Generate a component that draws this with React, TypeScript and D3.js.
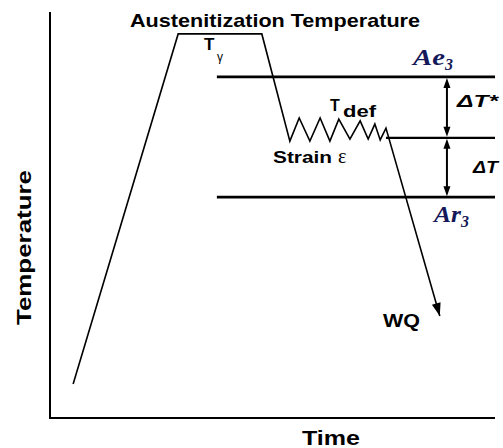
import React from "react";
import * as d3 from "d3";

const W = 503;
const H = 448;

// Thermomechanical schedule in normalised units (time 0–100, temperature 0–100)
const scheduleTime = [5.2, 28.8, 47.6, 53.9, 56.0, 58.4, 60.7, 62.9, 64.9, 67.4, 69.7, 71.5, 73.0, 74.2, 75.5, 87.6];
const scheduleTemp = [8.4, 94.6, 94.6, 68.2, 73.9, 68.2, 73.9, 68.2, 73.6, 68.7, 73.2, 68.7, 72.4, 68.5, 71.4, 25.1];

// Critical temperature levels
const levelNames = ["Ae3", "Tdef", "Ar3"];
const levelTemps = [84.0, 69.0, 54.4];
const levelStart = [37.5, 75.5, 37.5];
const levelEnd = 100;
const gapArrowTime = 89.2;

const SANS = "'Liberation Sans', Arial, sans-serif";
const SERIF = "'Liberation Serif', 'Times New Roman', serif";
const NAVY = "#15185a";

export default function App() {
  const x = d3.scaleLinear().domain([0, 100]).range([50, 495]);
  const y = d3.scaleLinear().domain([0, 100]).range([418, 12]);

  const pts: [number, number][] = scheduleTime.map((t, i) => [x(t), y(scheduleTemp[i])]);
  const line = d3.line();
  const pathD = line(pts) || "";

  // arrowhead at the quench end
  const [x1, y1] = pts[pts.length - 2];
  const [x2, y2] = pts[pts.length - 1];
  const ang = Math.atan2(y2 - y1, x2 - x1);
  const headLen = 13;
  const headHalf = 4.5;
  const bx = x2 - headLen * Math.cos(ang);
  const by = y2 - headLen * Math.sin(ang);
  const quenchHead = [
    [x2, y2],
    [bx + headHalf * Math.sin(ang), by - headHalf * Math.cos(ang)],
    [bx - headHalf * Math.sin(ang), by + headHalf * Math.cos(ang)],
  ]
    .map((p) => p.join(","))
    .join(" ");

  const ax = x(gapArrowTime);
  const yAe = y(levelTemps[0]);
  const yDef = y(levelTemps[1]);
  const yAr = y(levelTemps[2]);

  const vHead = (tipY: number, dir: number) =>
    `${ax},${tipY} ${ax - 3.5},${tipY + dir * 10} ${ax + 3.5},${tipY + dir * 10}`;

  return (
    <svg
      width={W}
      height={H}
      style={{ position: "absolute", left: 0, top: 0, background: "#fff" }}
    >
      <rect width={W} height={H} fill="#fff" />
      {/* axes */}
      <line x1={x(0)} y1={y(100)} x2={x(0)} y2={y(0) + 1} stroke="#000" strokeWidth={2} />
      <line x1={x(0)} y1={y(0)} x2={x(100)} y2={y(0)} stroke="#000" strokeWidth={2} />

      {/* critical temperature levels */}
      {levelTemps.map((t, i) => (
        <line
          key={levelNames[i]}
          x1={x(levelStart[i])}
          x2={x(levelEnd)}
          y1={y(t)}
          y2={y(t)}
          stroke="#000"
          strokeWidth={i === 1 ? 2.2 : 2.8}
        />
      ))}

      {/* schedule */}
      <path d={pathD} fill="none" stroke="#000" strokeWidth={1.6} strokeLinejoin="miter" />
      <polygon points={quenchHead} fill="#000" />

      {/* undercooling arrows */}
      <line x1={ax} x2={ax} y1={yAe + 6} y2={yDef - 6} stroke="#000" strokeWidth={2} />
      <polygon points={vHead(yAe + 1, 1)} fill="#000" />
      <polygon points={vHead(yDef - 1, -1)} fill="#000" />
      <line x1={ax} x2={ax} y1={yDef + 6} y2={yAr - 6} stroke="#000" strokeWidth={2} />
      <polygon points={vHead(yDef + 1, 1)} fill="#000" />
      <polygon points={vHead(yAr - 1, -1)} fill="#000" />

      {/* labels */}
      <text x={130} y={27} fontFamily={SANS} fontWeight="bold" fontSize={19} textLength={290} lengthAdjust="spacingAndGlyphs">
        Austenitization Temperature
      </text>
      <text x={204} y={50} fontFamily={SANS} fontWeight="bold" fontSize={17}>
        T
      </text>
      <text x={217} y={61} fontFamily={SANS} fontSize={12}>
        γ
      </text>

      <text x={413} y={65} fontFamily={SERIF} fontStyle="italic" fontWeight="bold" fontSize={23} fill={NAVY} textLength={32} lengthAdjust="spacingAndGlyphs">
        Ae
      </text>
      <text x={445} y={70} fontFamily={SERIF} fontStyle="italic" fontWeight="bold" fontSize={16} fill={NAVY}>
        3
      </text>

      <text x={457} y={107} fontFamily={SANS} fontStyle="italic" fontWeight="bold" fontSize={17} textLength={41} lengthAdjust="spacingAndGlyphs">
        ΔT*
      </text>

      <text x={330} y={111} fontFamily={SANS} fontWeight="bold" fontSize={16}>
        T
      </text>
      <text x={343} y={117} fontFamily={SANS} fontWeight="bold" fontSize={17} textLength={33} lengthAdjust="spacingAndGlyphs">
        def
      </text>

      <text x={273} y={163} fontFamily={SANS} fontWeight="bold" fontSize={16} textLength={59} lengthAdjust="spacingAndGlyphs">
        Strain
      </text>
      <text x={338} y={163} fontFamily={SERIF} fontSize={20}>
        ε
      </text>

      <text x={473} y={173} fontFamily={SANS} fontStyle="italic" fontWeight="bold" fontSize={17} textLength={25} lengthAdjust="spacingAndGlyphs">
        ΔT
      </text>

      <text x={434} y={222} fontFamily={SERIF} fontStyle="italic" fontWeight="bold" fontSize={23} fill={NAVY} textLength={27} lengthAdjust="spacingAndGlyphs">
        Ar
      </text>
      <text x={461} y={227} fontFamily={SERIF} fontStyle="italic" fontWeight="bold" fontSize={16} fill={NAVY}>
        3
      </text>

      <text x={383} y={327} fontFamily={SANS} fontWeight="bold" fontSize={18} textLength={37} lengthAdjust="spacingAndGlyphs">
        WQ
      </text>

      <text x={302} y={445} fontFamily={SANS} fontWeight="bold" fontSize={21} textLength={58} lengthAdjust="spacingAndGlyphs">
        Time
      </text>

      <text
        transform="translate(31,325) rotate(-90)"
        fontFamily={SANS}
        fontWeight="bold"
        fontSize={21}
        textLength={155}
        lengthAdjust="spacingAndGlyphs"
      >
        Temperature
      </text>
    </svg>
  );
}
